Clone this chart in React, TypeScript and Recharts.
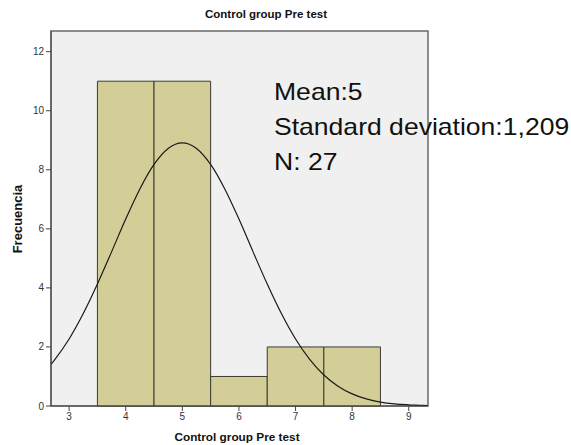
import React from 'react';
import { ComposedChart, Line, XAxis, YAxis, ReferenceArea } from 'recharts';

const binCenters = [4, 5, 6, 7, 8];
const binCounts = [11, 11, 1, 2, 2];
const curveX = [2.68, 2.75, 3, 3.25, 3.5, 3.75, 4, 4.25, 4.5, 4.75, 5, 5.25, 5.5, 5.75, 6, 6.25, 6.5, 6.75, 7, 7.25, 7.5, 7.75, 8, 8.25, 8.5, 8.75, 9, 9.25, 9.34];
const curveY = [1.41, 1.58, 2.27, 3.13, 4.13, 5.22, 6.33, 7.35, 8.18, 8.72, 8.91, 8.72, 8.18, 7.35, 6.33, 5.22, 4.13, 3.13, 2.27, 1.58, 1.05, 0.67, 0.41, 0.24, 0.13, 0.07, 0.04, 0.02, 0.01];
const xTicks = [3, 4, 5, 6, 7, 8, 9];
const yTicks = [0, 2, 4, 6, 8, 10, 12];
const xDomain = [2.68, 9.34];
const yDomain = [0, 12.7];
const title = 'Control group Pre test';
const xLabel = 'Control group Pre test';
const yLabel = 'Frecuencia';
const statLines = ['Mean:5', 'Standard deviation:1,209', 'N: 27'];

const curveData = curveX.map((x, i) => ({ x, y: curveY[i] }));

const FONT = 'Liberation Sans, Arial, sans-serif';

export default function App() {
  return (
    <div style={{ position: 'absolute', left: 0, top: 0, width: 571, height: 445, background: '#fff' }}>
      <ComposedChart
        width={571}
        height={445}
        data={curveData}
        margin={{ top: 31, right: 143, bottom: 0, left: 0 }}
      >
        <XAxis
          type="number"
          dataKey="x"
          domain={xDomain}
          ticks={xTicks}
          allowDataOverflow
          height={39}
          tickSize={5}
          tickLine={{ stroke: '#444' }}
          axisLine={{ stroke: '#444' }}
          tick={{ fontSize: 10, fill: '#333', fontFamily: FONT }}
        />
        <YAxis
          type="number"
          domain={yDomain}
          ticks={yTicks}
          allowDataOverflow
          width={51}
          tickSize={5}
          tickLine={{ stroke: '#444' }}
          axisLine={{ stroke: '#444' }}
          tick={{ fontSize: 10, fill: '#333', fontFamily: FONT }}
        />
        <ReferenceArea
          x1={xDomain[0]}
          x2={xDomain[1]}
          y1={yDomain[0]}
          y2={yDomain[1]}
          fill="#F0F0F0"
          fillOpacity={1}
          stroke="#6a6a6a"
          strokeWidth={1.5}
          ifOverflow="visible"
        />
        {binCenters.map((c, i) => (
          <ReferenceArea
            key={c}
            x1={c - 0.5}
            x2={c + 0.5}
            y1={0}
            y2={binCounts[i]}
            fill="#D3CE98"
            fillOpacity={1}
            stroke="#3a3a33"
            strokeWidth={1}
            ifOverflow="visible"
          />
        ))}
        <Line
          dataKey="y"
          type="monotone"
          dot={false}
          stroke="#1a1a1a"
          strokeWidth={1.2}
          isAnimationActive={false}
        />
      </ComposedChart>
      <svg
        width={571}
        height={445}
        style={{ position: 'absolute', left: 0, top: 0, pointerEvents: 'none' }}
      >
        <text x={266} y={18} textAnchor="middle" fontFamily={FONT} fontWeight="bold" fontSize={11.5} fill="#111">
          {title}
        </text>
        <text x={237} y={441} textAnchor="middle" fontFamily={FONT} fontWeight="bold" fontSize={11.8} fill="#111">
          {xLabel}
        </text>
        <text
          x={17}
          y={219}
          transform="rotate(-90 17 219)"
          textAnchor="middle"
          dominantBaseline="central"
          fontFamily={FONT}
          fontWeight="bold"
          fontSize={13}
          fill="#111"
        >
          {yLabel}
        </text>
        <g transform="translate(274,0) scale(1.155,1)">
          {statLines.map((s, i) => (
            <text key={s} x={0} y={100 + i * 35} fontFamily={FONT} fontSize={23} fill="#111">
              {s}
            </text>
          ))}
        </g>
      </svg>
    </div>
  );
}
